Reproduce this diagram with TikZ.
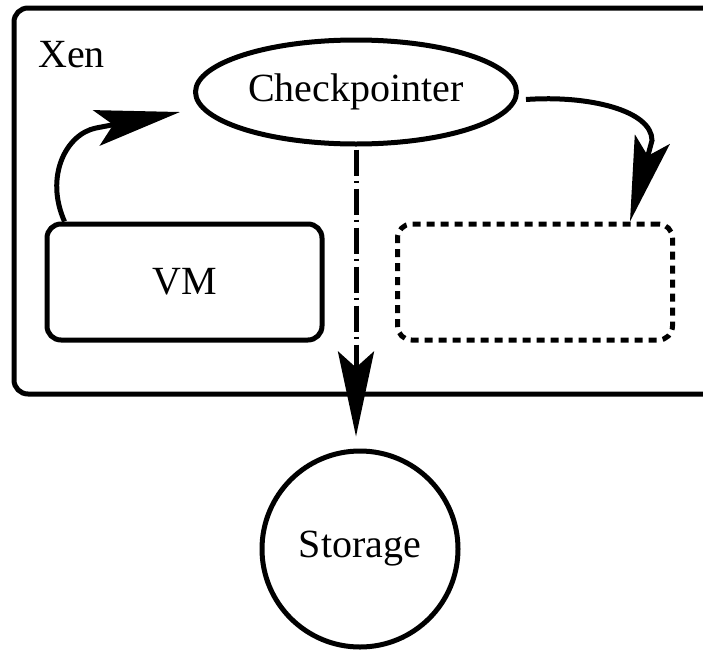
\documentclass[tikz,border=0pt]{standalone}
\usepackage{fontspec}
\setmainfont{Liberation Serif}
\usepackage{tikz}
\usetikzlibrary{shapes, arrows.meta, positioning}

\begin{document}
\begin{tikzpicture}[x=1pt, y=-1pt,
    every node/.style={font=\fontsize{40}{48}\selectfont},
    hostbox/.style={draw, line width=5pt, rounded corners=14pt, minimum width=746pt, minimum height=386pt},
    vmbox/.style={draw, line width=5pt, rounded corners=14pt, minimum width=275pt, minimum height=116pt},
    ghostbox/.style={vmbox, dash pattern=on 8pt off 6pt},
    flow/.style={line width=5pt, -{Stealth[length=85pt, width=36pt, inset=17pt]}},
    save/.style={line width=5pt, dash pattern=on 26pt off 5pt on 2pt off 6pt, -{Stealth[length=85pt, width=36pt, inset=16pt]}}]
  \useasboundingbox (0,0) rectangle (703,656);

  % host
  \node[hostbox] (xen) at (387,201) {};
  \node[anchor=base west, inner sep=0pt] (xenlabel) at (38,67) {Xen};

  \node[draw, ellipse, line width=5pt, inner sep=0pt, minimum width=321pt, minimum height=104pt] (ckpt) at (356,92) {Checkpointer};
  \node[vmbox] (vm) at (184.5,282) {VM};
  \node[ghostbox] (ghost) at (535,282) {};

  % storage
  \node[draw, circle, line width=5pt, inner sep=0pt, minimum size=196pt] (storage) at (360,549) {Storage};

  % arrows
  \draw[flow] ([xshift=20pt]vm.north west) .. controls +(-20,-45) and +(-30,6) .. ([xshift=-97pt, yshift=-36pt]ckpt.west) -- ([xshift=-13pt, yshift=-20pt]ckpt.west);
  \draw[flow, shorten <=7pt] ([yshift=-8pt]ckpt.east) .. controls +(70,-5) and +(0,-30) .. ([xshift=-23pt, yshift=81pt]ghost.north east) -- ([xshift=-45pt]ghost.north east);
  \draw[save, shorten <=3pt, shorten >=12pt] (ckpt.south) -- (ckpt.south |- storage.north);
\end{tikzpicture}
\end{document}
